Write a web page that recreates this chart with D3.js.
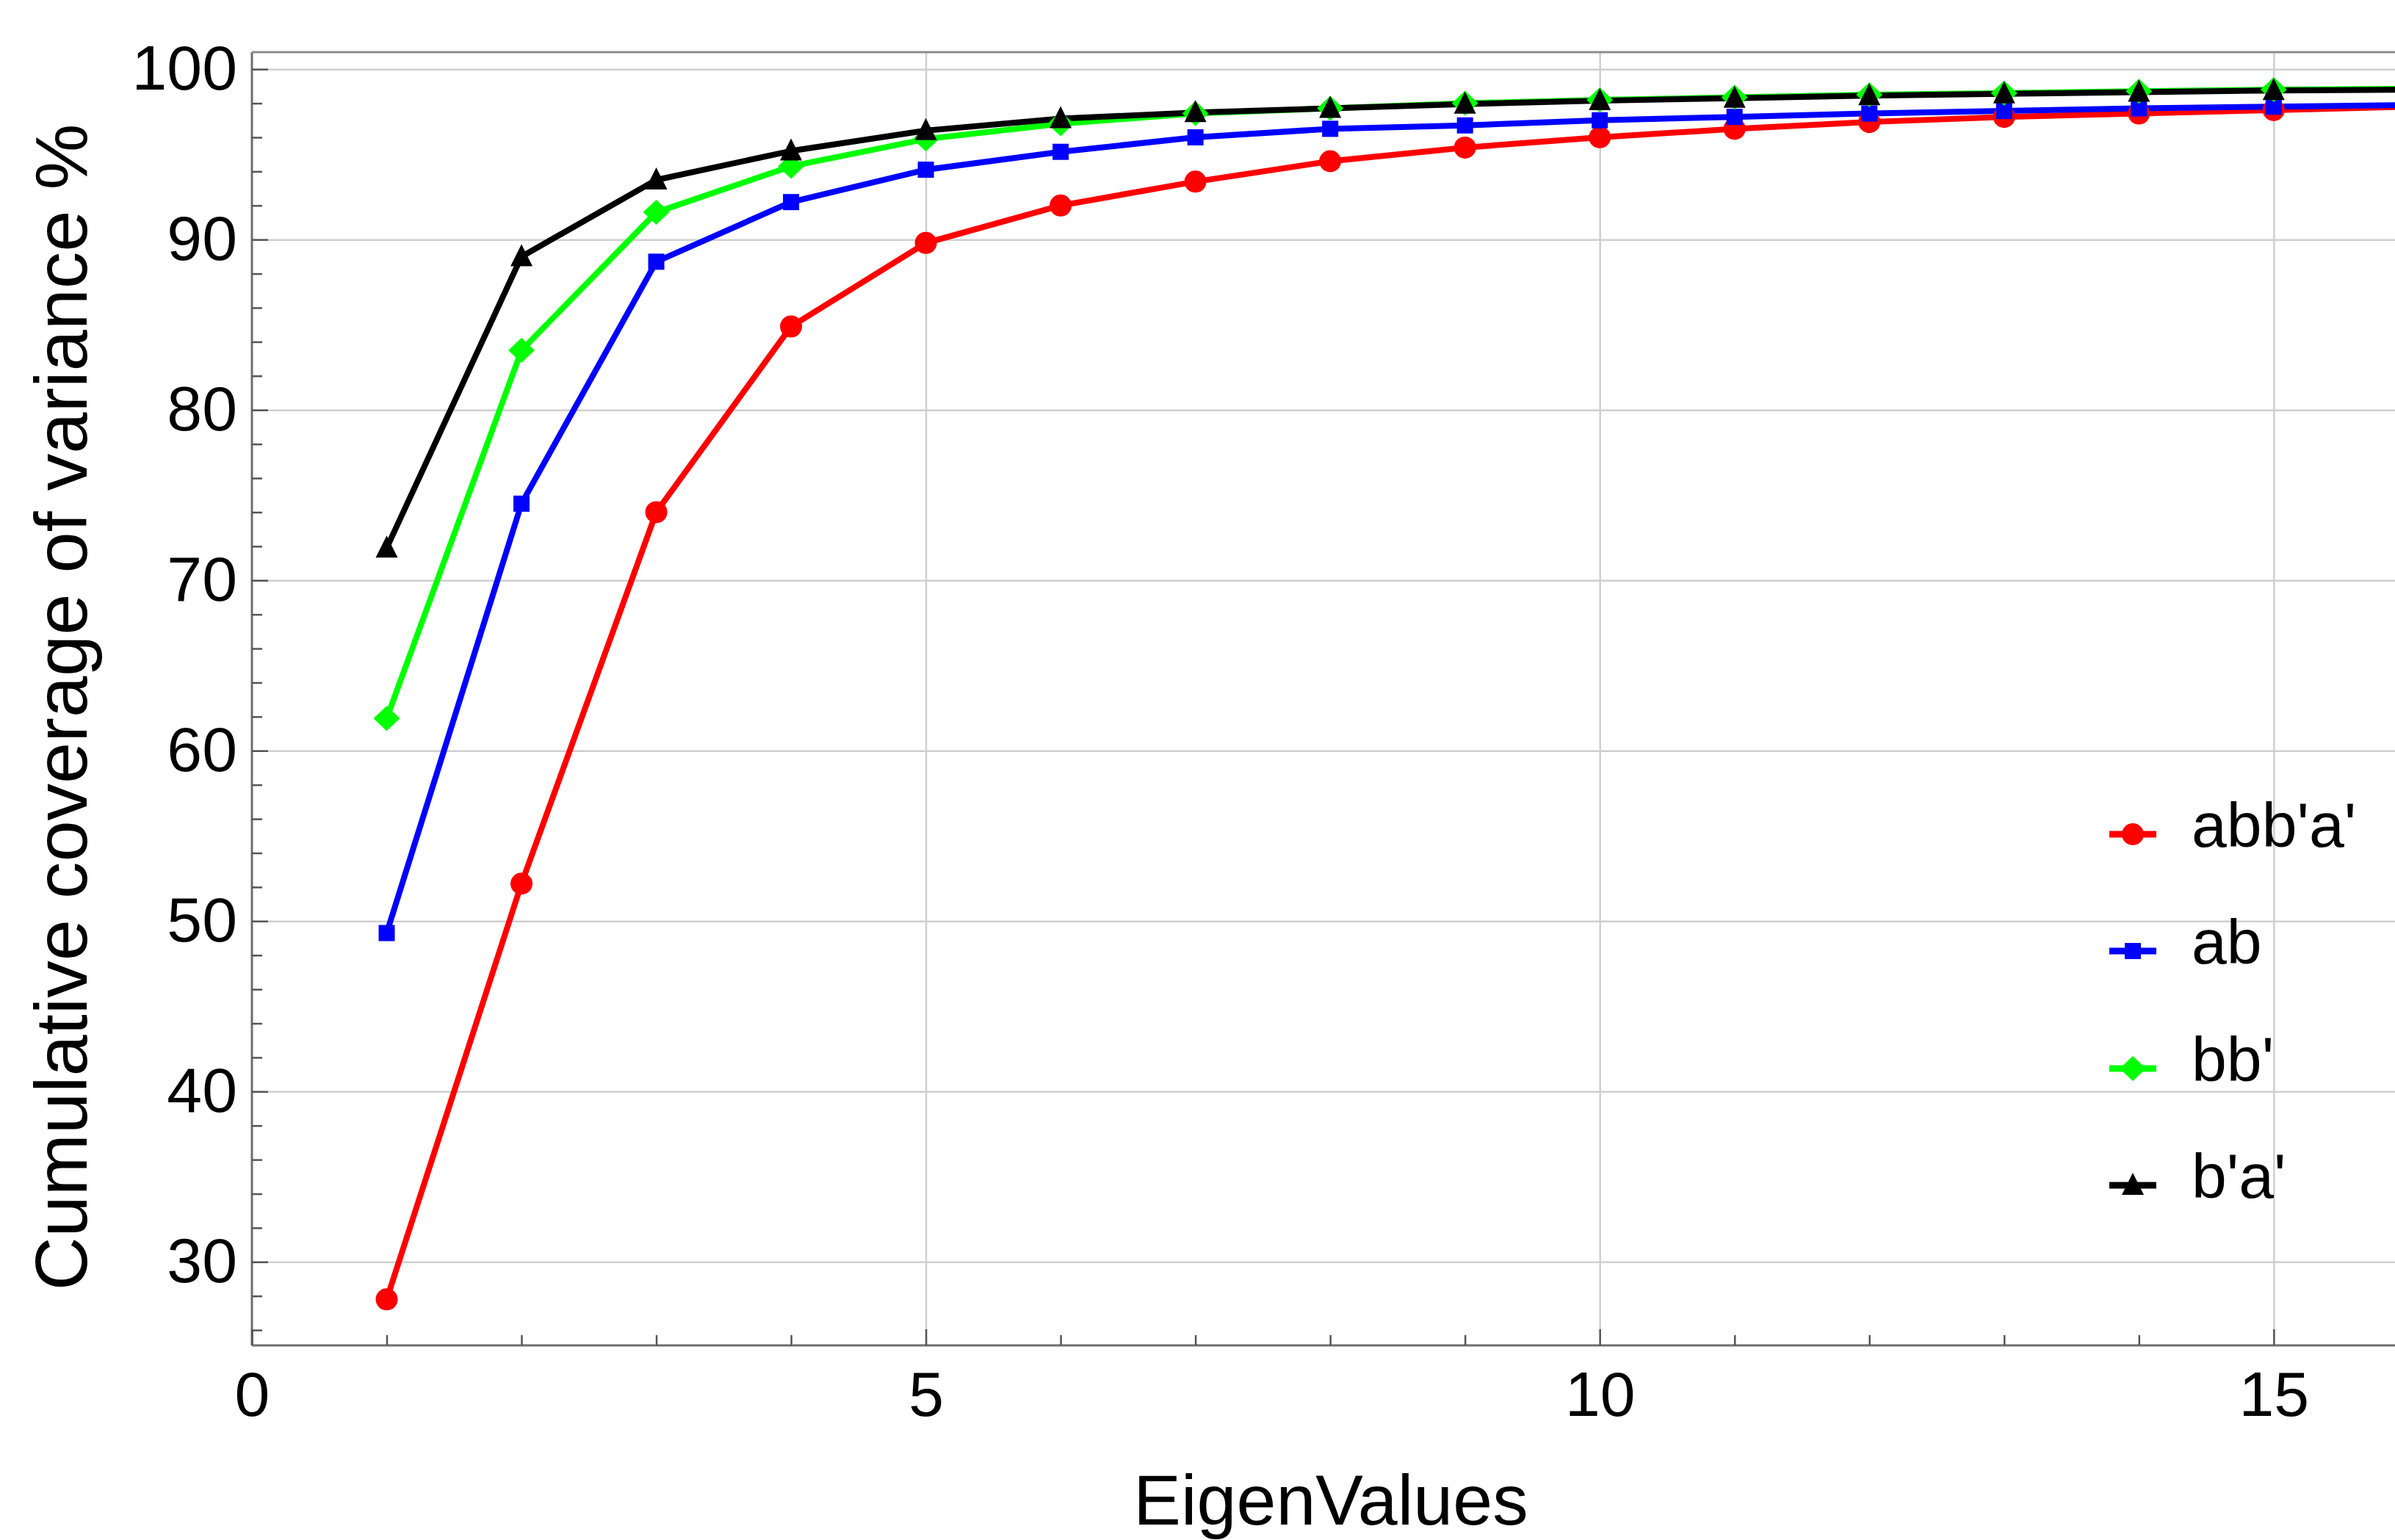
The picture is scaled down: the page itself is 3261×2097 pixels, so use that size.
<!DOCTYPE html>
<html>
<head>
<meta charset="utf-8">
<script src="https://cdn.jsdelivr.net/npm/d3@7/dist/d3.min.js"></script>
<style>
  body { margin: 0; background: #fff; }
  svg { display: block; font-family: "Liberation Sans", Arial, sans-serif; }
</style>
</head>
<body>
<div id="chart"></div>
<script>
// eigenvalue index on x
const eigenIndex = [1, 2, 3, 4, 5, 6, 7, 8, 9, 10, 11, 12, 13, 14, 15, 16];

// cumulative coverage (%)
const abbaValues = [27.8, 52.2, 74.0, 84.9, 89.8, 92.0, 93.4, 94.6, 95.4, 96.0, 96.5, 96.9, 97.2, 97.4, 97.6, 97.8];
const abValues   = [49.3, 74.5, 88.7, 92.2, 94.1, 95.15, 96.0, 96.5, 96.7, 97.0, 97.2, 97.4, 97.55, 97.7, 97.8, 97.9];
const bbValues   = [61.9, 83.5, 91.6, 94.3, 95.9, 96.8, 97.4, 97.7, 98.0, 98.2, 98.35, 98.5, 98.6, 98.7, 98.8, 98.85];
const baValues   = [71.9, 89.0, 93.5, 95.2, 96.4, 97.1, 97.45, 97.7, 97.95, 98.15, 98.3, 98.45, 98.55, 98.65, 98.75, 98.8];

const seriesNames = ["abb'a'", "ab", "bb'", "b'a'"];
const seriesColors = ["#ff0000", "#0000ff", "#00ff00", "#000000"];
const seriesShapes = ["circle", "square", "diamond", "triangle"];

const xMajorTicks = [0, 5, 10, 15];
const xMinorTicks = [1, 2, 3, 4, 6, 7, 8, 9, 11, 12, 13, 14];
const yMajorTicks = [30, 40, 50, 60, 70, 80, 90, 100];
const yMinorTicks = [26, 28, 32, 34, 36, 38, 42, 44, 46, 48, 52, 54, 56, 58, 62, 64, 66, 68, 72, 74, 76, 78, 82, 84, 86, 88, 92, 94, 96, 98];

const width = 3261, height = 2097;
const margin = {top: 71, right: 0, bottom: 265, left: 343};

const series = [abbaValues, abValues, bbValues, baValues].map((vals, i) => ({
  name: seriesNames[i],
  color: seriesColors[i],
  shape: seriesShapes[i],
  points: vals.map((v, j) => ({x: eigenIndex[j], y: v}))
}));

const svg = d3.select('#chart').append('svg')
  .attr('width', width)
  .attr('height', height);

const x = d3.scaleLinear()
  .domain([0, 15.9])
  .range([margin.left, width - margin.right]);

const y = d3.scaleLinear()
  .domain([25.1, 101])
  .range([height - margin.bottom, margin.top]);

const plotW = x.range()[1] - x.range()[0];
const plotH = y.range()[0] - y.range()[1];

svg.append('defs').append('clipPath')
  .attr('id', 'plot-clip')
  .append('rect')
    .attr('x', x.range()[0])
    .attr('y', y.range()[1])
    .attr('width', plotW)
    .attr('height', plotH);

// grid lines
const grid = svg.append('g').attr('class', 'grid');
grid.append('g')
  .attr('transform', 'translate(0,' + y.range()[0] + ')')
  .call(d3.axisBottom(x).tickValues(xMajorTicks.filter(d => d > 0)).tickSize(-plotH).tickFormat(''));
grid.append('g')
  .attr('transform', 'translate(' + x.range()[0] + ',0)')
  .call(d3.axisLeft(y).tickValues(yMajorTicks).tickSize(-plotW).tickFormat(''));
grid.selectAll('.domain').remove();
grid.selectAll('line').attr('stroke', '#cfcfcf').attr('stroke-width', 2.5);

// frame
const frame = svg.append('g').attr('stroke', '#6e6e6e').attr('stroke-width', 3);
frame.append('line')
  .attr('x1', x.range()[0]).attr('x2', x.range()[0])
  .attr('y1', y.range()[1]).attr('y2', y.range()[0]);
frame.append('line')
  .attr('x1', x.range()[0]).attr('x2', x.range()[1])
  .attr('y1', y.range()[0]).attr('y2', y.range()[0]);
frame.append('line')
  .attr('stroke', '#8c8c8c')
  .attr('x1', x.range()[0]).attr('x2', x.range()[1])
  .attr('y1', y.range()[1]).attr('y2', y.range()[1]);

// ticks, pointing inward
const xAxis = svg.append('g')
  .attr('class', 'axis axis--x')
  .attr('transform', 'translate(0,' + y.range()[0] + ')');
xAxis.append('g')
  .call(d3.axisBottom(x).tickValues(xMinorTicks).tickSize(-14).tickFormat(''));
xAxis.append('g')
  .call(d3.axisBottom(x).tickValues(xMajorTicks).tickSize(-22).tickPadding(35).tickFormat(d3.format('d')));

const yAxis = svg.append('g')
  .attr('class', 'axis axis--y')
  .attr('transform', 'translate(' + x.range()[0] + ',0)');
yAxis.append('g')
  .call(d3.axisLeft(y).tickValues(yMinorTicks).tickSize(-14).tickFormat(''));
yAxis.append('g')
  .call(d3.axisLeft(y).tickValues(yMajorTicks).tickSize(-22).tickPadding(20).tickFormat(d3.format('d')));

svg.selectAll('.axis .domain').remove();
svg.selectAll('.axis line').attr('stroke', '#555').attr('stroke-width', 2.5);
svg.selectAll('.axis text')
  .attr('fill', '#000')
  .style('font-size', '86px')
  .style('font-family', '"Liberation Sans", Arial, sans-serif');

// axis titles
svg.append('text')
  .attr('x', 1812)
  .attr('y', 2076)
  .attr('text-anchor', 'middle')
  .style('font-size', '97px')
  .text('EigenValues');

svg.append('text')
  .attr('transform', 'translate(118,963) rotate(-90)')
  .attr('text-anchor', 'middle')
  .style('font-size', '101px')
  .text('Cumulative coverage of variance %');

// lines
const line = d3.line().x(d => x(d.x)).y(d => y(d.y));
const plot = svg.append('g').attr('clip-path', 'url(#plot-clip)');

plot.selectAll('.series-line')
  .data(series)
  .enter().append('path')
    .attr('class', 'series-line')
    .attr('d', d => line(d.points))
    .attr('fill', 'none')
    .attr('stroke', d => d.color)
    .attr('stroke-width', 8)
    .attr('stroke-linejoin', 'round');

// marker shapes
function markerPath(shape) {
  switch (shape) {
    case 'circle':   return d3.symbol(d3.symbolCircle, Math.PI * 15 * 15)();
    case 'square':   return 'M-11,-11H11V11H-11Z';
    case 'diamond':  return 'M0,-17L18,0L0,17L-18,0Z';
    case 'triangle': return 'M0,-17L15,13H-15Z';
  }
}

series.forEach(s => {
  plot.append('g')
    .selectAll('path')
    .data(s.points)
    .enter().append('path')
      .attr('transform', d => 'translate(' + x(d.x) + ',' + y(d.y) + ')')
      .attr('d', markerPath(s.shape))
      .attr('fill', s.color);
});

// legend
const legendRows = [1136, 1295, 1455, 1614];
const legend = svg.append('g').attr('class', 'legend');
const items = legend.selectAll('g')
  .data(series)
  .enter().append('g')
    .attr('transform', (d, i) => 'translate(2904,' + legendRows[i] + ')');

items.append('line')
  .attr('x1', -32).attr('x2', 32)
  .attr('stroke', d => d.color)
  .attr('stroke-width', 9);

items.append('path')
  .attr('d', d => markerPath(d.shape))
  .attr('fill', d => d.color);

items.append('text')
  .attr('x', 80)
  .attr('y', 17)
  .style('font-size', '86px')
  .text(d => d.name);
</script>
</body>
</html>
